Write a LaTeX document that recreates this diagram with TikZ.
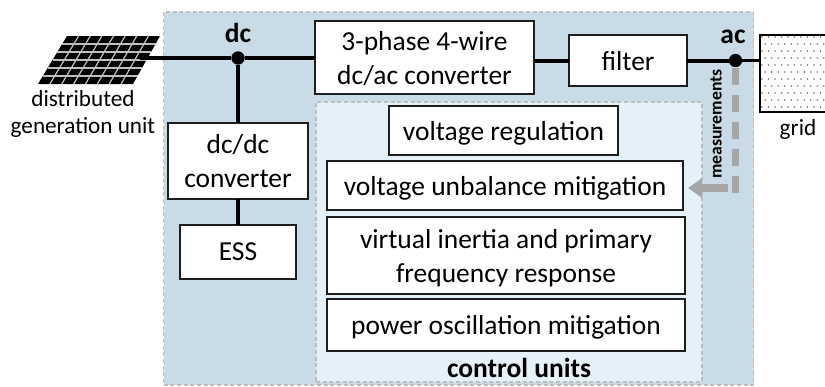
\documentclass[tikz,border=0pt]{standalone}
\usepackage{fontspec}
\setmainfont{Carlito}
\usetikzlibrary{arrows.meta}
\definecolor{outerfill}{RGB}{200,219,230}
\definecolor{innerfill}{RGB}{228,241,248}
\definecolor{dashcol}{RGB}{190,190,190}
\definecolor{meascol}{RGB}{166,166,166}
\definecolor{boxline}{RGB}{30,30,30}
\tikzset{
  panelbox/.style={draw=dashcol,line width=0.8pt,dash pattern=on 3pt off 2pt,inner sep=0pt,outer sep=0pt},
  blockbox/.style={draw=boxline,fill=white,line width=1.1pt,inner sep=0pt,outer sep=0pt,align=center,
    font=\fontsize{20.6}{25}\selectfont},
  oneline/.style={blockbox,text depth=0pt},
  txt/.style={inner sep=0pt,outer sep=0pt,align=center,font=\fontsize{17.4}{20.3}\selectfont},
  boldtxt/.style={inner sep=0pt,outer sep=0pt,font=\fontsize{20.6}{24}\selectfont\bfseries},
  wire/.style={line width=2.6pt,black},
  junction/.style={circle,fill=black,minimum size=10pt,inner sep=0pt,outer sep=0pt},
  measline/.style={line width=5.5pt,meascol,dash pattern=on 12.8pt off 7.4pt},
  measarrow/.style={line width=6pt,meascol,-{Triangle[length=10.5pt,width=14pt]}},
}
\begin{document}
\begin{tikzpicture}[x=0.75pt,y=-0.75pt]
\useasboundingbox (0,0) rectangle (825,386);
% panels
\node[panelbox,fill=outerfill,minimum width=442.5pt,minimum height=279.75pt] (outer) at (458.5,198.5) {};
\node[panelbox,fill=innerfill,minimum width=289.5pt,minimum height=210pt] (inner) at (509,242) {};
% solar array
\coordinate (pv) at (140,58);
\fill[black] (67,36) -- (160,36) -- (133,84) -- (38,84) -- cycle;
\foreach \i in {1,...,5}{
  \draw[line width=0.9pt,white!75!black] ({67-29*\i/6},{36+48*\i/6}) -- ({160-27*\i/6},{36+48*\i/6});
}
\foreach \i in {1,...,7}{
  \draw[line width=0.9pt,white!75!black] ({67+93*\i/8},36) -- ({38+95*\i/8},84);
}
% blocks
\node[blockbox,minimum width=164.25pt,minimum height=54.75pt] (conv) at (424.5,57.5) {\rule{0pt}{16pt}3-phase 4-wire\\dc/ac converter};
\node[oneline,minimum width=88.5pt,minimum height=38.25pt] (filter) at (628,60.5) {filter};
\node[blockbox,minimum width=105pt,minimum height=57pt] (dcdc) at (238,161) {dc/dc\\converter};
\node[oneline,minimum width=87pt,minimum height=40.5pt] (ess) at (238,252) {ESS};
\node[oneline,minimum width=171.75pt,minimum height=36.75pt] (vreg) at (503.5,130.5) {voltage regulation};
\node[oneline,minimum width=267pt,minimum height=36.75pt] (vunb) at (505,185.5) {voltage unbalance mitigation};
\node[blockbox,minimum width=268.5pt,minimum height=57.75pt] (vif) at (506,255.5) {\rule{0pt}{18.5pt}virtual inertia and primary\\frequency response};
\node[oneline,minimum width=268.5pt,minimum height=39pt] (pom) at (506,325) {power oscillation mitigation};
% grid
\node[draw=black,fill=white,line width=1.1pt,inner sep=0pt,outer sep=0pt,minimum width=52pt,minimum height=57.75pt] (grid) at (794.7,73.5) {};
\begin{scope}
  \clip (grid.south west) rectangle (grid.north east);
  \foreach \r in {0,...,10}{
    \foreach \c in {0,...,10}{
      \fill[black!55] ({762+6.5*\c+3.2*mod(\r,2)},{37+7*\r}) circle (0.65pt);
    }
  }
\end{scope}
\draw[draw=black,line width=1.1pt] (grid.south west) rectangle (grid.north east);
% junctions
\node[junction] (dc) at (238,58) {};
\node[junction] (ac) at (735.5,60.5) {};
% wires
\draw[wire] (pv) -- (dc);
\draw[wire] (dc) -- (conv.west |- dc);
\draw[wire] (dc) -- (dcdc.north);
\draw[wire] (dcdc.south) -- (ess.north);
\draw[wire,line width=3pt] (conv.east |- filter) -- (filter.west);
\draw[wire,line width=3pt] (filter.east) -- (ac);
\draw[wire] (ac) -- (grid.west |- ac);
% measurements
\coordinate (mtop) at (735.5,68);
\coordinate (mcorner) at (735.5,192.5);
\coordinate (marrow) at (728,188);
\coordinate (mtip) at (688,188);
\draw[measline] (mtop) -- (mcorner);
\draw[measarrow] (marrow) -- (mtip);
% labels
\node[boldtxt] (ldc) at (238,33) {dc};
\node[boldtxt] (lac) at (733,37) {ac};
\node[txt] (ldg) at (83,114) {distributed\\generation unit};
\node[txt] (lgrid) at (798,129) {grid};
\node[boldtxt] (lcu) at (519,368) {control units};
\node[inner sep=0pt,outer sep=0pt,rotate=90,font=\fontsize{13.3}{16}\selectfont\bfseries] (lm) at (716,124) {measurements};
\end{tikzpicture}
\end{document}
